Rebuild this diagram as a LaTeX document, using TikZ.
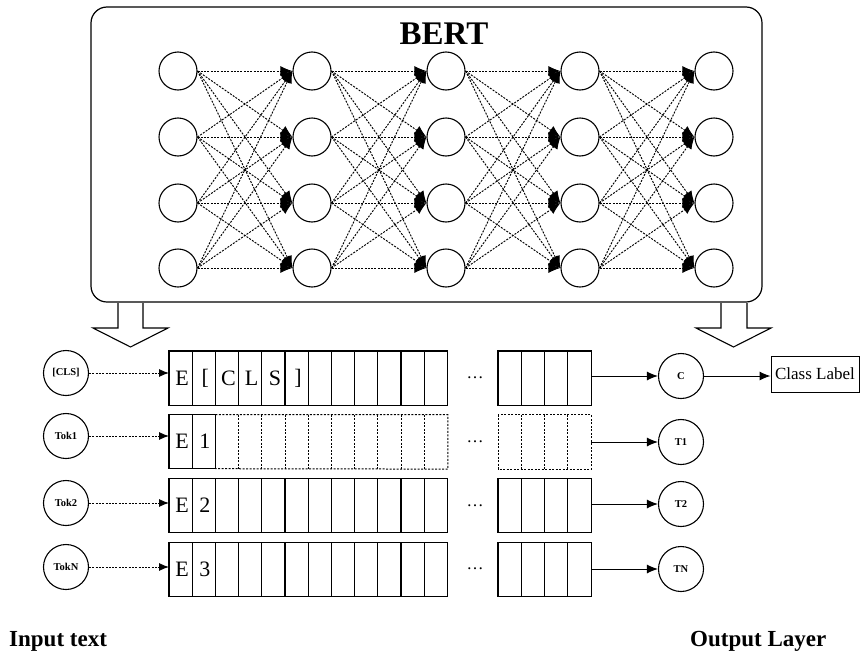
\documentclass[tikz,border=0pt]{standalone}
\usepackage{fontspec}
\setmainfont{Liberation Serif}
\usetikzlibrary{arrows.meta}
\begin{document}
\begin{tikzpicture}[x=1pt,y=-1pt,
  neuron/.style={circle,draw,line width=1.1pt,minimum size=38pt,inner sep=0pt},
  tok/.style={circle,draw,line width=1.1pt,minimum size=45pt,inner sep=0pt,font=\bfseries\fontsize{10.5}{11}\selectfont},
  link/.style={line width=0.95pt,dash pattern=on 2pt off 1.3pt,-{Latex[length=12pt,width=10pt]}},
  feed/.style={line width=0.95pt,dash pattern=on 2pt off 1.3pt,-{Latex[length=10pt,width=8pt]}},
  outarr/.style={line width=1pt,-{Latex[length=11pt,width=9pt]}},
  blk/.style={inner sep=0pt,minimum height=54pt,anchor=north west},
  solidline/.style={line width=1.1pt},
  dashline/.style={line width=1pt,dash pattern=on 2pt off 1.5pt},
  celltxt/.style={inner sep=0pt,font=\fontsize{22}{24}\selectfont},
  dotstxt/.style={inner sep=0pt,font=\fontsize{17}{19}\selectfont},
  hollow/.style={line width=1.1pt,fill=white},
  caption/.style={anchor=base west,inner sep=0pt,font=\bfseries\fontsize{23}{26}\selectfont}
]
\useasboundingbox (0,0) rectangle (861,653);

% ---- BERT encoder box ----
\node[draw,line width=1.2pt,rounded corners=16pt,minimum width=671pt,minimum height=295pt,inner sep=0pt] (bert) at (426.5,154.5) {};
\node[anchor=base,inner sep=0pt,font=\bfseries\fontsize{33}{36}\selectfont] (title) at (444,44) {BERT};

% neurons: 5 layers of 4
\foreach \c/\x in {1/178,2/312,3/446,4/580,5/714}
  \foreach \r/\y in {1/71,2/137,3/203,4/268}
    \node[neuron] (n\c\r) at (\x,\y) {};

% fully connected dashed links between consecutive layers
\foreach \c/\d in {1/2,2/3,3/4,4/5}
  \foreach \r in {1,...,4}
    \foreach \s in {1,...,4}
      \draw[link] (n\c\r.east) -- (n\d\s.west);

% hollow arrows out of the encoder
\draw[hollow] (118,303) -- (118,328) -- (93,328) -- (130.5,347) -- (168,328) -- (143,328) -- (143,303);
\draw[hollow] (721,303) -- (721,328) -- (696,328) -- (733.5,347) -- (771,328) -- (747,328) -- (747,303);

% ---- embedding rows ----
\def\cw{23.2}
\foreach \r/\yt in {1/351,2/414.7,3/478.4,4/542.1} {
  \node[blk,minimum width=278.4pt] (ra\r) at (169,\yt) {};
  \node[blk,minimum width=92.8pt] (rb\r) at (498,\yt) {};
  \node[dotstxt] (dots\r) at (475,\yt+27) {\ldots};
}

% rows 1, 3, 4: solid cells
\foreach \r/\yt in {1/351,3/478.4,4/542.1} {
  \draw[solidline] (ra\r.north west) rectangle (ra\r.south east);
  \draw[solidline] (rb\r.north west) rectangle (rb\r.south east);
  \foreach \i in {1,...,11}
    \draw[solidline] (169+\i*\cw,\yt) -- (169+\i*\cw,\yt+54);
  \foreach \i in {1,...,3}
    \draw[solidline] (498+\i*\cw,\yt) -- (498+\i*\cw,\yt+54);
}

% row 2: two solid cells, the rest dashed
\draw[solidline] (169,414.7) rectangle (169+2*\cw,468.7);
\draw[solidline] (169+\cw,414.7) -- (169+\cw,468.7);
\draw[dashline] (169+2*\cw,414.7) -- (ra2.north east) -- (ra2.south east) -- (169+2*\cw,468.7);
\foreach \i in {3,...,11}
  \draw[dashline] (169+\i*\cw,414.7) -- (169+\i*\cw,468.7);
\draw[dashline] (rb2.north west) rectangle (rb2.south east);
\foreach \i in {1,...,3}
  \draw[dashline] (498+\i*\cw,414.7) -- (498+\i*\cw,468.7);

% cell letters
\foreach \i/\t in {1/E,2/{[},3/C,4/L,5/S,6/{]}}
  \node[celltxt] (ta\i) at (169+\i*\cw-\cw/2+1.5,378) {\t};
\foreach \r/\yc/\t in {2/441.7/1,3/505.4/2,4/569.1/3} {
  \node[celltxt] (te\r) at (169+\cw/2+1.5,\yc) {E};
  \node[celltxt] (tn\r) at (169+1.5*\cw+1,\yc) {\t};
}

% ---- input tokens ----
\node[tok] (in1) at (66,373) {[CLS]};
\node[tok] (in2) at (66,436) {Tok1};
\node[tok] (in3) at (66,503) {Tok2};
\node[tok] (in4) at (66,567) {TokN};
\foreach \r in {1,...,4}
  \draw[feed] (in\r) -- (in\r -| ra\r.west);

% ---- outputs ----
\node[tok] (o1) at (681,376) {C};
\node[tok] (o2) at (681,442) {T1};
\node[tok] (o3) at (681,504) {T2};
\node[tok] (o4) at (681,569) {TN};
\foreach \r in {1,...,4}
  \draw[outarr] (rb\r.east |- o\r) -- (o\r);

\node[draw,line width=1pt,minimum width=88pt,minimum height=36pt,inner sep=0pt,font=\fontsize{17}{19}\selectfont] (cls) at (815,374) {Class Label};
\draw[outarr] (o1) -- (o1 -| cls.west);

% ---- captions ----
\node[caption] (inlabel) at (9,646) {Input text};
\node[caption] (outlabel) at (690,646) {Output Layer};
\end{tikzpicture}
\end{document}
